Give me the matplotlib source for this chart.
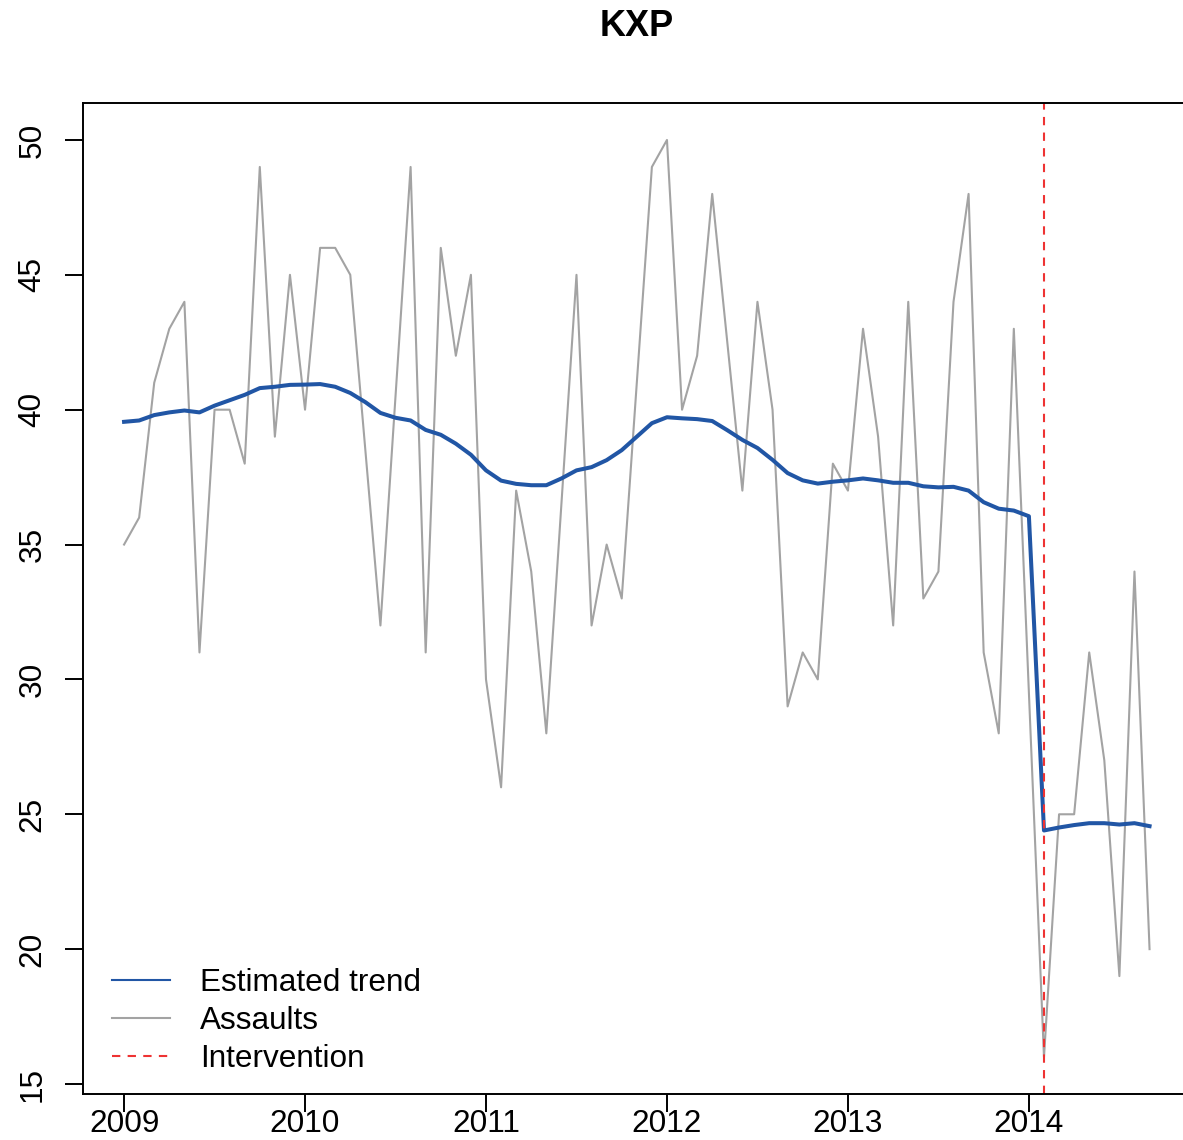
import numpy as np
import matplotlib
matplotlib.use("Agg")
import matplotlib.pyplot as plt
from matplotlib.lines import Line2D

plt.rcParams["font.family"] = ["Liberation Sans", "DejaVu Sans"]

# monthly series, Jan 2009 .. Sep 2014
start_year = 2009
assaults = [35, 36, 41, 43, 44, 31, 40, 40, 38, 49, 39, 45,
            40, 46, 46, 45, 38.5, 32, 40.5, 49, 31, 46, 42, 45,
            30, 26, 37, 34, 28, 36.5, 45, 32, 35, 33, 41, 49,
            50, 40, 42, 48, 42.5, 37, 44, 40, 29, 31, 30, 38,
            37, 43, 39, 32, 44, 33, 34, 44, 48, 31, 28, 43,
            29.5, 16, 25, 25, 31, 27, 19, 34, 20]
trend = [39.55, 39.6, 39.8, 39.9, 39.97, 39.9, 40.15, 40.35, 40.55, 40.8, 40.85, 40.92,
         40.93, 40.95, 40.85, 40.62, 40.28, 39.88, 39.7, 39.6, 39.25, 39.07, 38.74, 38.33,
         37.75, 37.37, 37.25, 37.2, 37.2, 37.45, 37.75, 37.87, 38.13, 38.5, 39.0, 39.5,
         39.72, 39.68, 39.65, 39.58, 39.24, 38.88, 38.58, 38.14, 37.65, 37.38, 37.26, 37.33,
         37.38, 37.45, 37.38, 37.29, 37.29, 37.16, 37.12, 37.14, 37.0, 36.57, 36.33, 36.26,
         36.05, 24.4, 24.51, 24.6, 24.67, 24.67, 24.62, 24.67, 24.56]
intervention = 2014 + 1 / 12

blue = "#2156A5"
grey = "#A3A3A3"
red = "#EE3333"
dash = (0, (4, 3.5))

time = start_year + np.arange(len(assaults)) / 12

fig = plt.figure(figsize=(11.83, 11.40), dpi=100)
# R style box: 4% padding on both axes, plot region runs past the right edge
ax = fig.add_axes([0.0702, 0.0406, 0.9362, 0.8688])

ax.plot(time, assaults, color=grey, linewidth=1.5)
ax.plot(time, trend, color=blue, linewidth=2.9)
ax.axvline(intervention, color=red, linewidth=1.5, linestyle=dash)

rng_x = time[-1] - time[0]
ax.set_xlim(time[0] - 0.04 * rng_x, time[-1] + 0.04 * rng_x)
rng_y = max(assaults) - min(assaults)
ax.set_ylim(min(assaults) - 0.04 * rng_y, max(assaults) + 0.04 * rng_y)

ax.set_xticks([2009, 2010, 2011, 2012, 2013, 2014])
ax.set_yticks([15, 20, 25, 30, 35, 40, 45, 50])
ax.set_yticklabels(["15", "20", "25", "30", "35", "40", "45", "50"],
                   rotation=90, va="center")
ax.tick_params(axis="both", labelsize=22.7, length=13, width=1.4, color="black")
ax.tick_params(axis="x", pad=-2)
ax.tick_params(axis="y", pad=12.5)
for sp in ax.spines.values():
    sp.set_linewidth(1.4)

# legend keys are drawn thin in the original, trend included
handles = [
    Line2D([], [], color=blue, linewidth=1.5),
    Line2D([], [], color=grey, linewidth=1.5),
    Line2D([], [], color=red, linewidth=1.5, linestyle=dash),
]
ax.legend(handles, ["Estimated trend", "Assaults", "Intervention"],
          loc="lower left", bbox_to_anchor=(0.026, 0.02), frameon=False,
          fontsize=22.7, handlelength=1.85, handletextpad=0.95,
          labelspacing=0.25, borderpad=0, borderaxespad=0)

fig.text(637 / 1183, 1 - 27 / 1140, "KXP", ha="center", va="center",
         fontsize=26, fontweight="bold")

fig.savefig("out.png", dpi=100)
